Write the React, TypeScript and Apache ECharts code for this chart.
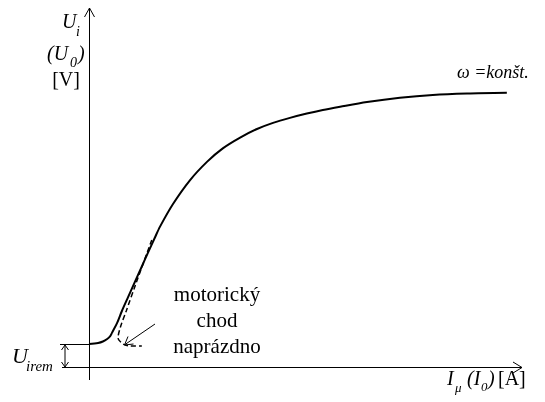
import React, { useEffect, useRef } from "react";
import * as echarts from "echarts";

// Magnetisation curve of a generator: induced voltage vs. magnetising current
const magCurrent = [0, 2.1, 3.2, 4.2, 4.9, 5.3, 6.5, 7.6, 9.0, 10.6, 12.2, 13.6, 15.2, 16.4, 19.4, 23.3, 27.3, 30.9, 34.9, 38.8, 42.5, 46.4, 50.3, 54.0, 58.0, 64.2, 71.8, 79.4, 87.3, 96.5];
const inducedVoltage = [6.4, 6.7, 7.1, 7.8, 8.6, 9.5, 12.3, 15.6, 19.4, 23.7, 28.0, 31.8, 36.0, 39.1, 45.4, 52.0, 57.2, 60.9, 63.9, 66.3, 68.0, 69.4, 70.6, 71.6, 72.5, 73.8, 75.0, 75.8, 76.2, 76.4];

// No-load motoring branch (dashed)
const motorCurrent = [14.5, 10.8, 8.6, 7.2, 6.7, 7.9, 9.5, 12.2];
const motorVoltage = [35.4, 23.1, 15.6, 10.9, 8.1, 6.4, 5.85, 5.85];

const FONT = "Liberation Serif";

const txt = (
  text: string,
  x: number,
  y: number,
  size: number,
  italic: boolean,
  center = false
) => {
  const style: any = { text, fontFamily: FONT, fontSize: size, fill: "#000" };
  if (italic) style.fontStyle = "italic";
  if (center) style.align = "center";
  style.verticalAlign = "middle";
  return { type: "text", x, y, style };
};

const ln = (x1: number, y1: number, x2: number, y2: number, w = 1) => ({
  type: "line",
  shape: { x1, y1, x2, y2 },
  style: { stroke: "#000", lineWidth: w },
});

const pl = (points: number[][], w = 1) => ({
  type: "polyline",
  shape: { points },
  style: { stroke: "#000", lineWidth: w, fill: "none" },
});

export default function App() {
  const ref = useRef<HTMLDivElement>(null);

  useEffect(() => {
    if (!ref.current) return;
    const chart = echarts.init(ref.current, null, { renderer: "svg" });

    const mainData = magCurrent.map((x, i) => [x, inducedVoltage[i]]);
    const motorData = motorCurrent.map((x, i) => [x, motorVoltage[i]]);

    chart.setOption({
      animation: false,
      grid: { left: 89, top: 8, width: 433, height: 359 },
      xAxis: { type: "value", min: 0, max: 100, show: false },
      yAxis: { type: "value", min: 0, max: 100, show: false },
      series: [
        {
          type: "line",
          data: motorData,
          smooth: 0.3,
          showSymbol: false,
          lineStyle: { color: "#000", width: 1.5, type: [5, 3] },
          z: 2,
        },
        {
          type: "line",
          data: mainData,
          smooth: 0.3,
          showSymbol: false,
          lineStyle: { color: "#000", width: 2 },
          z: 3,
        },
      ],
      graphic: [
        // vertical axis with open arrowhead
        ln(89.5, 8, 89.5, 380),
        pl([[84.5, 17], [89.5, 8], [94.5, 17]]),
        // horizontal axis with open arrowhead
        ln(62, 367.5, 522, 367.5),
        pl([[513, 362], [522, 367.5], [513, 373]]),
        // remanent voltage bracket
        ln(60, 344.5, 90, 344.5),
        ln(65, 345, 65, 367),
        pl([[61.5, 350], [65, 345], [68.5, 350]]),
        pl([[61.5, 362], [65, 367], [68.5, 362]]),
        // pointer to the motoring branch
        ln(155, 324, 125, 344.5),
        pl([[128, 336.5], [124.5, 345], [133.5, 344]]),
        // vertical axis title
        txt("U", 62, 21, 20, true),
        txt("i", 76, 31, 14, true),
        txt("(U", 47, 53, 20, true),
        txt("0", 70, 62, 14, true),
        txt(")", 78, 53, 20, true),
        txt("[V]", 66, 79, 20, false, true),
        // remanence label
        txt("U", 12, 355, 22, true),
        txt("irem", 26, 366, 15, true),
        // horizontal axis title
        txt("I", 447, 378, 20, true),
        txt("μ", 455, 387, 13, true),
        txt("(I", 467, 378, 20, true),
        txt("0", 481, 386, 13, true),
        txt(")", 488, 378, 20, true),
        txt("[A]", 498, 378, 20, false),
        // curve annotations
        txt("ω =konšt.", 457, 72, 18, true),
        txt("motorický", 217, 294, 21, false, true),
        txt("chod", 217, 320, 21, false, true),
        txt("naprázdno", 217, 346, 21, false, true),
      ],
    });

    return () => chart.dispose();
  }, []);

  return (
    <div
      ref={ref}
      style={{ position: "fixed", left: 0, top: 0, width: 545, height: 402 }}
    />
  );
}
